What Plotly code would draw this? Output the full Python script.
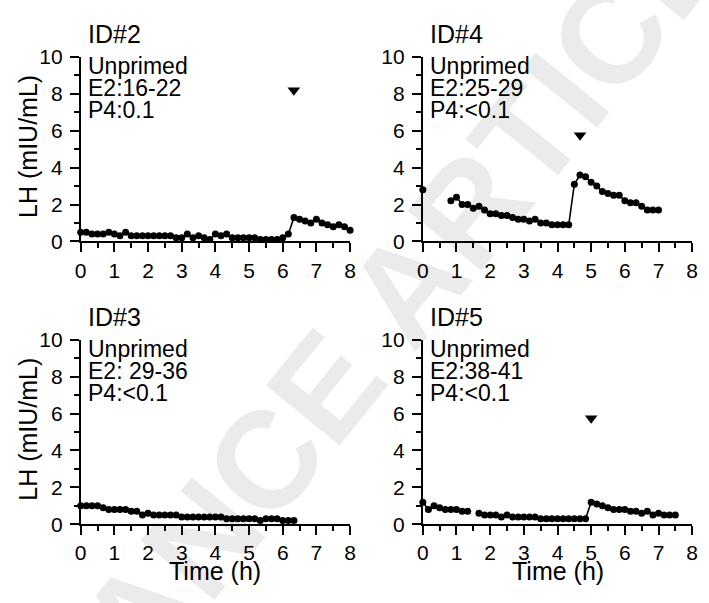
import plotly.graph_objects as go

# ---------------- data ----------------
# sampling times (minutes after start) and LH values (mIU/mL)
min_id2 = [0, 10, 20, 30, 40, 50, 60, 70, 80, 90, 100, 110, 120, 130, 140, 150, 160, 170,
           180, 190, 200, 210, 220, 230, 240, 250, 260, 270, 280, 290, 300, 310, 320, 330,
           340, 350, 360, 370, 380, 390, 400, 410, 420, 430, 440, 450, 460, 470, 480]
lh_id2 = [0.5, 0.5, 0.4, 0.4, 0.4, 0.5, 0.4, 0.3, 0.5, 0.3,
          0.3, 0.3, 0.3, 0.3, 0.3, 0.3, 0.3, 0.2, 0.2, 0.4,
          0.2, 0.3, 0.2, 0.1, 0.4, 0.3, 0.4, 0.2, 0.2, 0.2,
          0.2, 0.2, 0.1, 0.1, 0.1, 0.1, 0.2, 0.4, 1.3, 1.2,
          1.1, 1.0, 1.2, 1.0, 0.9, 0.8, 0.9, 0.8, 0.6]

min_id4 = [0, 10, 20, 30, 40, 50, 60, 70, 80, 90, 100, 110, 120, 130, 140, 150, 160, 170,
           180, 190, 200, 210, 220, 230, 240, 250, 260, 270, 280, 290, 300, 310, 320, 330,
           340, 350, 360, 370, 380, 390, 400, 410, 420]
lh_id4 = [2.8, None, None, None, None, 2.2, 2.4, 2.0, 2.0, 1.8,
          1.9, 1.7, 1.5, 1.5, 1.4, 1.4, 1.3, 1.2, 1.2, 1.1,
          1.2, 1.0, 1.0, 0.9, 0.9, 0.9, 0.9, 3.1, 3.6, 3.5,
          3.2, 3.0, 2.7, 2.6, 2.5, 2.5, 2.2, 2.1, 2.1, 1.9,
          1.7, 1.7, 1.7]

min_id3 = [0, 10, 20, 30, 40, 50, 60, 70, 80, 90, 100, 110, 120, 130, 140, 150, 160, 170,
           180, 190, 200, 210, 220, 230, 240, 250, 260, 270, 280, 290, 300, 310, 320, 330,
           340, 350, 360, 370, 380]
lh_id3 = [1.0, 1.0, 1.0, 1.0, 0.9, 0.8, 0.8, 0.8, 0.8, 0.7,
          0.7, 0.5, 0.6, 0.5, 0.5, 0.5, 0.5, 0.5, 0.4, 0.4,
          0.4, 0.4, 0.4, 0.4, 0.4, 0.4, 0.3, 0.3, 0.3, 0.3,
          0.3, 0.3, 0.2, 0.3, 0.3, 0.3, 0.2, 0.2, 0.2]

min_id5 = [0, 10, 20, 30, 40, 50, 60, 70, 80, 90, 100, 110, 120, 130, 140, 150, 160, 170,
           180, 190, 200, 210, 220, 230, 240, 250, 260, 270, 280, 290, 300, 310, 320, 330,
           340, 350, 360, 370, 380, 390, 400, 410, 420, 430, 440, 450]
lh_id5 = [1.2, 0.8, 1.0, 0.9, 0.8, 0.8, 0.8, 0.7, 0.7, None,
          0.6, 0.5, 0.5, 0.5, 0.4, 0.5, 0.4, 0.4, 0.4, 0.4,
          0.4, 0.3, 0.3, 0.3, 0.3, 0.3, 0.3, 0.3, 0.3, 0.3,
          1.2, 1.1, 1.0, 0.9, 0.8, 0.8, 0.8, 0.7, 0.7, 0.6,
          0.7, 0.5, 0.6, 0.5, 0.5, 0.5]

# arrowhead markers (time in h, LH level)
arrow_id2 = (6.33, 8.2)
arrow_id4 = (4.67, 5.75)
arrow_id5 = (5.0, 5.75)

panel_titles = ["ID#2", "ID#4", "ID#3", "ID#5"]
panel_notes = [
    ["Unprimed", "E2:16-22", "P4:0.1"],
    ["Unprimed", "E2:25-29", "P4:<0.1"],
    ["Unprimed", "E2: 29-36", "P4:<0.1"],
    ["Unprimed", "E2:38-41", "P4:<0.1"],
]
x_ticks = [0, 1, 2, 3, 4, 5, 6, 7, 8]
y_ticks = [0, 2, 4, 6, 8, 10]
y_title = "LH (mIU/mL)"
x_title = "Time (h)"
watermark = "ADVANCE ARTICLE"

# ---------------- layout helpers ----------------
W, H = 709, 603
FONT = "Liberation Sans, Arial, sans-serif"

def px(x):
    return x / W

def py(y):
    return 1 - y / H

# pixel boxes of each plot area: (left, right, top(=10), bottom(=0))
boxes = [
    (76, 350, 46.7, 238.5),
    (424, 698, 46.7, 238.5),
    (76, 350, 340.8, 532.6),
    (424, 698, 340.8, 532.6),
]

series = [
    (min_id2, lh_id2, arrow_id2),
    (min_id4, lh_id4, arrow_id4),
    (min_id3, lh_id3, None),
    (min_id5, lh_id5, arrow_id5),
]

fig = go.Figure()
annotations = []
layout = {}

for i, ((mins, vals, arrow), box) in enumerate(zip(series, boxes)):
    n = i + 1
    xa = "x" if n == 1 else f"x{n}"
    ya = "y" if n == 1 else f"y{n}"
    hours = [m / 60 for m in mins]
    fig.add_trace(go.Scatter(
        x=hours, y=vals, xaxis=xa, yaxis=ya, mode="lines+markers",
        line=dict(color="black", width=1.6), connectgaps=False,
        marker=dict(symbol="circle", size=7, color="black"),
        cliponaxis=False, showlegend=False,
    ))
    if arrow is not None:
        fig.add_trace(go.Scatter(
            x=[arrow[0]], y=[arrow[1]], xaxis=xa, yaxis=ya, mode="markers",
            marker=dict(symbol="triangle-down", size=11, color="black"),
            cliponaxis=False, showlegend=False,
        ))
    l, r, t, b = box
    common = dict(
        showline=True, linecolor="black", linewidth=1.8, mirror=False,
        showgrid=False, zeroline=False, ticks="outside", ticklen=9,
        tickwidth=1.8, tickcolor="black",
        tickfont=dict(family=FONT, size=21, color="black"),
        fixedrange=True,
    )
    layout["xaxis" if n == 1 else f"xaxis{n}"] = dict(
        common, domain=[px(l), px(r)], range=[0, 8], tickvals=x_ticks,
        anchor=ya, ticklabelstandoff=0,
        minor=dict(ticks="outside", ticklen=4.5, tickwidth=1.6,
                   tickcolor="black", dtick=0.5, tick0=0),
    )
    layout["yaxis" if n == 1 else f"yaxis{n}"] = dict(
        common, domain=[py(b), py(t)], range=[0, 10], tickvals=y_ticks,
        anchor=xa, ticklabelstandoff=3,
        minor=dict(ticks="outside", ticklen=4.5, tickwidth=1.6,
                   tickcolor="black", dtick=1, tick0=0),
    )
    # panel title
    annotations.append(dict(
        text=panel_titles[i], xref="paper", yref="paper",
        x=px(l + 5), y=py(t - 24), xanchor="left", yanchor="middle",
        showarrow=False, font=dict(family=FONT, size=25, color="black"),
    ))
    # notes
    for k, line in enumerate(panel_notes[i]):
        annotations.append(dict(
            text=line, xref="paper", yref="paper",
            x=px(l + 5), y=py(t + 9.5 + 22.7 * k), xanchor="left",
            yanchor="middle", showarrow=False,
            font=dict(family=FONT, size=23, color="black"),
        ))
    # y-axis title (left column only)
    if l < 200:
        annotations.append(dict(
            text=y_title, xref="paper", yref="paper",
            x=px(23), y=py((t + b) / 2 - 3), xanchor="center", yanchor="middle",
            textangle=-90, showarrow=False,
            font=dict(family=FONT, size=25, color="black"),
        ))
    # x-axis title (bottom row only)
    if t > 300:
        annotations.append(dict(
            text=x_title, xref="paper", yref="paper",
            x=px((l + r) / 2), y=py(581), xanchor="center", yanchor="middle",
            showarrow=False, font=dict(family=FONT, size=25, color="black"),
        ))

# diagonal watermark
annotations.append(dict(
    text=f"<b>{watermark}</b>", xref="paper", yref="paper",
    x=px(341), y=py(369), xanchor="center", yanchor="middle",
    textangle=-51, showarrow=False,
    font=dict(family=FONT, size=138, color="rgba(0,0,0,0.08)"),
))

fig.update_layout(
    width=W, height=H, margin=dict(l=0, r=0, t=0, b=0),
    paper_bgcolor="white", plot_bgcolor="rgba(0,0,0,0)",
    annotations=annotations, **layout,
)

fig.write_html("out.html", config={"displayModeBar": False})

# remove the browser's default page margin so the figure sits at (0, 0)
with open("out.html", encoding="utf-8") as f:
    html = f.read()
html = html.replace("<head>", "<head><style>html,body{margin:0;padding:0;overflow:hidden;}</style>", 1)
with open("out.html", "w", encoding="utf-8") as f:
    f.write(html)
